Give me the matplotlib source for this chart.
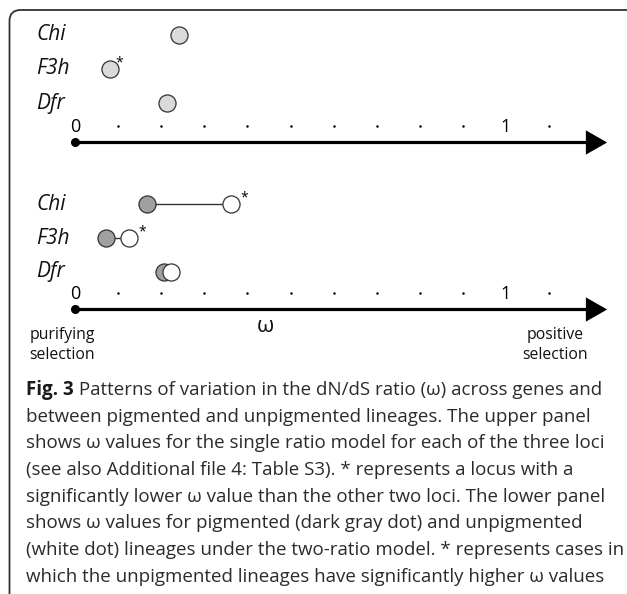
import matplotlib
matplotlib.use("Agg")
import matplotlib.pyplot as plt
from matplotlib.patches import FancyBboxPatch
from matplotlib.transforms import IdentityTransform

plt.rcParams['font.family'] = ['Open Sans', 'DejaVu Sans']

# dN/dS (omega) values
genes = ["Chi", "F3h", "Dfr"]
rows = [3, 2, 1]
single_ratio = [0.241, 0.081, 0.213]
single_sig = [False, True, False]
pigmented = [0.167, 0.072, 0.207]
unpigmented = [0.362, 0.125, 0.223]
two_ratio_sig = [True, True, False]

minor_ticks = [0.1, 0.2, 0.3, 0.4, 0.5, 0.6, 0.7, 0.8, 0.9, 1.1]
major_ticks = [0, 1]
major_labels = ["0", "1"]

caption_bold = "Fig. 3"
caption_lines = [
    " Patterns of variation in the dN/dS ratio (\u03c9) across genes and",
    "between pigmented and unpigmented lineages. The upper panel",
    "shows \u03c9 values for the single ratio model for each of the three loci",
    "(see also Additional file 4: Table S3). * represents a locus with a",
    "significantly lower \u03c9 value than the other two loci. The lower panel",
    "shows \u03c9 values for pigmented (dark gray dot) and unpigmented",
    "(white dot) lineages under the two-ratio model. * represents cases in",
    "which the unpigmented lineages have significantly higher \u03c9 values",
]

W, H = 627, 594
DPI = 100
X0, PX_PER_UNIT = 75, 431      # pixel of omega=0 and pixels per omega unit
ROW_PX = 34                     # pixels between gene rows

LIGHT = "#dadada"
DARK = "#a0a0a0"
EDGE = "#333333"
TXT = "#2b2b2b"

fig = plt.figure(figsize=(W / DPI, H / DPI), dpi=DPI)


def make_panel(top_px, bottom_px, axis_px, dfr_px):
    ax = fig.add_axes([0, 1 - bottom_px / H, 1, (bottom_px - top_px) / H])
    ax.set_xlim(-X0 / PX_PER_UNIT, (W - X0) / PX_PER_UNIT)
    axis_y = 1 - (axis_px - dfr_px) / ROW_PX
    ax.set_ylim(axis_y - (bottom_px - axis_px) / ROW_PX,
                axis_y + (axis_px - top_px) / ROW_PX)
    ax.axis("off")

    for g, r in zip(genes, rows):
        ax.text(36 / W, r, g, transform=ax.get_yaxis_transform(), ha="left",
                va="center", fontsize=15, style="italic", color="#111111")

    # number line with arrow
    ax.plot([0, 1.19], [axis_y, axis_y], color="black", lw=2.3,
            solid_capstyle="butt", zorder=2)
    ax.plot(0, axis_y, "o", ms=5.5, color="black", zorder=3)
    arrow = [(-0.875, -1), (-0.875, 1), (0.875, 0), (-0.875, -1)]
    ax.plot(1.2077, axis_y, marker=arrow, ms=17.5, color="black", mew=0,
            zorder=3)
    lab_y = axis_y + 15 / ROW_PX
    ax.plot(minor_ticks, [lab_y + 0.02] * len(minor_ticks), "o", ms=1.8,
            color="black", mew=0)
    for t, s in zip(major_ticks, major_labels):
        ax.text(t, lab_y, s, ha="center", va="center", fontsize=13,
                color="black")
    return ax


ax1 = make_panel(15, 160, 142, 103)
ax2 = make_panel(170, 330, 309, 272)

# upper panel: single ratio model
ax1.plot(single_ratio, rows, "o", ms=12.3, mfc=LIGHT, mec=EDGE, mew=0.9,
         zorder=4)
for x, r, sig in zip(single_ratio, rows, single_sig):
    if sig:
        ax1.annotate("*", (x, r), xytext=(7, 4), textcoords="offset points",
                     fontsize=10, color="black", ha="center", va="center")

# lower panel: two-ratio model
for p, u, r in zip(pigmented, unpigmented, rows):
    ax2.plot([p, u], [r, r], color="#333333", lw=1.0, zorder=3)
ax2.plot(pigmented, rows, "o", ms=12.3, mfc=DARK, mec=EDGE, mew=0.9, zorder=4)
ax2.plot(unpigmented, rows, "o", ms=12.3, mfc="white", mec=EDGE, mew=0.9,
         zorder=5)
for x, r, sig in zip(unpigmented, rows, two_ratio_sig):
    if sig:
        ax2.annotate("*", (x, r), xytext=(9.5, 4), textcoords="offset points",
                     fontsize=10, color="black", ha="center", va="center")

# end labels under lower axis
end_kw = dict(ha="center", va="center", fontsize=11.3, color="#111111")
fig.text(62 / W, 1 - 335 / H, "purifying", **end_kw)
fig.text(62 / W, 1 - 355 / H, "selection", **end_kw)
fig.text(555 / W, 1 - 335 / H, "positive", **end_kw)
fig.text(555 / W, 1 - 355 / H, "selection", **end_kw)
fig.text(265 / W, 1 - 326 / H, "\u03c9", ha="center", va="center",
         fontsize=16, color="#111111")

# rounded frame running off the right and bottom edges
frame = FancyBboxPatch((9.5, -20), 660, H - 10 + 20,
                       boxstyle="round,pad=0,rounding_size=11",
                       transform=IdentityTransform(), fill=False,
                       edgecolor="#333333", lw=1.3)
fig.add_artist(frame)

# caption
cap_x = 26 / W
base0, step = 395, 26.7
cap_size = 13.5
renderer = fig.canvas.get_renderer()
t_bold = fig.text(cap_x, 1 - base0 / H, caption_bold, fontsize=cap_size,
                  fontweight="bold", color="#1a1a1a", va="baseline")
bb = t_bold.get_window_extent(renderer)
for i, line in enumerate(caption_lines):
    x = cap_x if i > 0 else bb.x1 / W
    fig.text(x, 1 - (base0 + i * step) / H, line, fontsize=cap_size,
             color=TXT, va="baseline")

fig.savefig("out.png", dpi=DPI)
